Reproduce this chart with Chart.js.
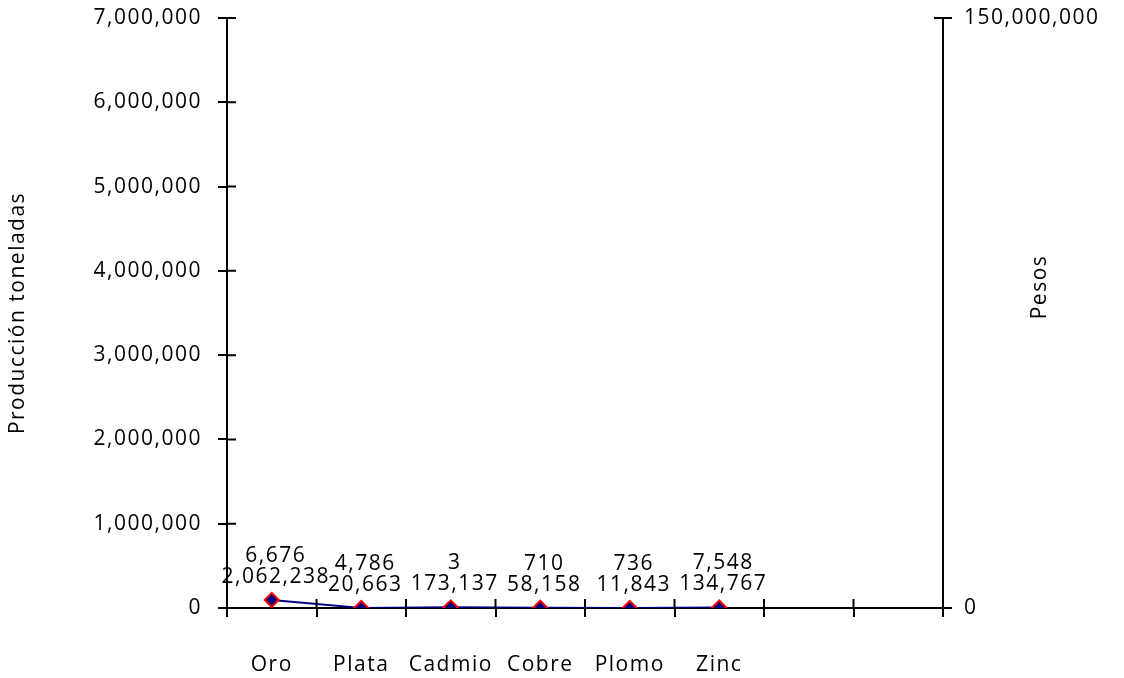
<!DOCTYPE html>
<html>
<head>
<meta charset="utf-8">
<script src="https://cdn.jsdelivr.net/npm/chart.js@4"></script>
<style>
html,body{margin:0;padding:0;background:#fff;}
#wrap{width:1124px;height:678px;position:relative;}
</style>
</head>
<body>
<div id="wrap"><canvas id="myChart"></canvas></div>
<script>
// data
var categories = ['Oro', 'Plata', 'Cadmio', 'Cobre', 'Plomo', 'Zinc', '', ''];
var produccion = [6676, 4786, 3, 710, 736, 7548];        // toneladas (label only)
var pesos = [2062238, 20663, 173137, 58158, 11843, 134767]; // right axis
var leftMax = 7000000, leftStep = 1000000;
var rightMax = 150000000;

var FONT = '"Open Sans", sans-serif';
var FS = 21;
var fmt = (v) => Number(v).toLocaleString('en-US');

// wider tracking, the original font runs wide
const spacing = {
    id: 'spacing',
    beforeInit(chart) { chart.ctx.letterSpacing = '1.5px'; },
    beforeUpdate(chart) { chart.ctx.letterSpacing = '1.5px'; },
    beforeDraw(chart) { chart.ctx.letterSpacing = '1.5px'; }
};

// small ticks that go across the axis line, like the original
const crossTicks = {
    id: 'crossTicks',
    afterDraw(chart) {
        const ctx = chart.ctx;
        const x = chart.scales.x, yl = chart.scales.y, yr = chart.scales.y1;
        ctx.save();
        ctx.strokeStyle = '#000';
        ctx.lineWidth = 2;
        ctx.beginPath();
        const n = categories.length;
        for (let i = 0; i <= n; i++) {
            const px = x.left + i * (x.width / n);
            ctx.moveTo(px, x.top - 9);
            ctx.lineTo(px, x.top);
        }
        yl.ticks.forEach(t => {
            const py = yl.getPixelForValue(t.value);
            ctx.moveTo(yl.right, py);
            ctx.lineTo(yl.right + 9, py);
        });
        yr.ticks.forEach(t => {
            const py = yr.getPixelForValue(t.value);
            ctx.moveTo(yr.left - 9, py);
            ctx.lineTo(yr.left, py);
        });
        ctx.stroke();

        // right axis title, reading upward
        ctx.font = FS + 'px ' + FONT;
        ctx.fillStyle = '#000';
        ctx.textAlign = 'center';
        ctx.textBaseline = 'middle';
        ctx.translate(1040, (yr.top + yr.bottom) / 2 - 26);
        ctx.rotate(-Math.PI / 2);
        ctx.fillText('Pesos', 0, 0);
        ctx.restore();
    }
};

// two stacked value labels above each point
const valueLabels = {
    id: 'valueLabels',
    afterDatasetsDraw(chart) {
        const ctx = chart.ctx;
        const meta = chart.getDatasetMeta(0);
        ctx.save();
        ctx.font = FS + 'px ' + FONT;
        ctx.fillStyle = '#000';
        ctx.textAlign = 'center';
        ctx.textBaseline = 'middle';
        meta.data.forEach((pt, i) => {
            if (pesos[i] == null) return;
            ctx.fillText(fmt(pesos[i]), pt.x + 4, pt.y - 23);
            ctx.fillText(fmt(produccion[i]), pt.x + 4, pt.y - 44);
        });
        ctx.restore();
    }
};

const noPad = (s, w) => { s.width = w; s.paddingTop = 0; s.paddingBottom = 0; };

const config = {
    type: 'line',
    data: {
        labels: categories,
        datasets: [{
            label: 'Pesos',
            data: pesos,
            yAxisID: 'y1',
            borderColor: '#000080',
            borderWidth: 2,
            backgroundColor: '#000080',
            pointStyle: 'rectRot',
            pointRadius: 7,
            pointBorderColor: '#ff0000',
            pointBorderWidth: 2,
            pointBackgroundColor: '#000080',
            tension: 0
        }]
    },
    options: {
        responsive: true,
        maintainAspectRatio: false,
        animation: false,
        layout: { padding: { top: 18, left: 0, right: 0, bottom: 0 } },
        plugins: { legend: { display: false }, tooltip: { enabled: false } },
        scales: {
            x: {
                offset: true,
                grid: { display: true, offset: true, drawOnChartArea: false, drawTicks: true, tickLength: 9, color: '#000', lineWidth: 2 },
                border: { display: true, color: '#000', width: 2 },
                ticks: { color: '#000', font: { family: FONT, size: FS }, padding: 35, maxRotation: 0, autoSkip: false },
                afterFit: (s) => { s.height = 70; s.paddingLeft = 0; s.paddingRight = 0; }
            },
            y: {
                position: 'left',
                min: 0,
                max: leftMax,
                grid: { drawOnChartArea: false, tickLength: 9, color: '#000', lineWidth: 2 },
                border: { display: true, color: '#000', width: 2 },
                ticks: { stepSize: leftStep, color: '#000', font: { family: FONT, size: FS }, padding: 16, callback: (v) => fmt(v) },
                title: { display: true, text: 'Producción toneladas', color: '#000', font: { family: FONT, size: FS }, padding: { top: 5, bottom: 0 } },
                afterFit: (s) => noPad(s, 227)
            },
            y1: {
                position: 'right',
                min: 0,
                max: rightMax,
                grid: { drawOnChartArea: false, tickLength: 9, color: '#000', lineWidth: 2 },
                border: { display: true, color: '#000', width: 2 },
                ticks: { stepSize: rightMax, color: '#000', font: { family: FONT, size: FS }, padding: 12, callback: (v) => fmt(v) },
                afterFit: (s) => noPad(s, 181)
            }
        }
    },
    plugins: [spacing, crossTicks, valueLabels]
};

const myChart = new Chart(document.getElementById('myChart'), config);
</script>
</body>
</html>
